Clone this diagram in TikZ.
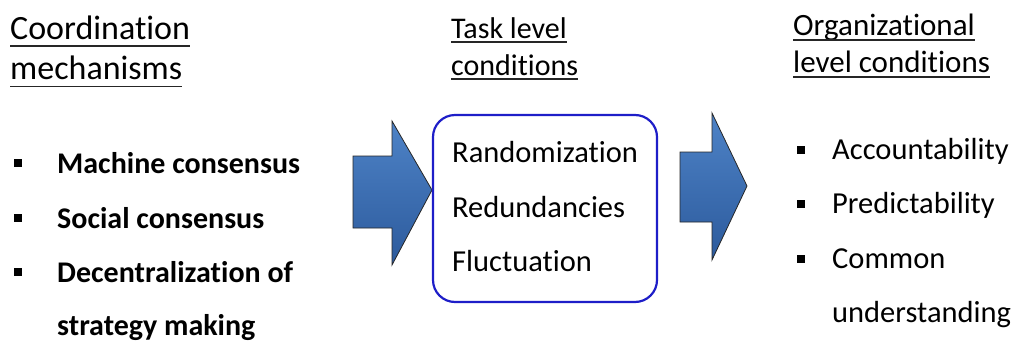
\documentclass[tikz,border=0pt]{standalone}
\usepackage{fontspec}
\setmainfont{Carlito}[Ligatures={NoCommon,NoContextual,NoRare}, Contextuals=NoAlternate]
\definecolor{arrowtop}{RGB}{78,131,199}
\definecolor{arrowbot}{RGB}{44,90,156}
\definecolor{boxblue}{RGB}{30,30,200}
\begin{document}
\begin{tikzpicture}[x=1pt,y=-1pt,
  txt/.style={anchor=base west, inner sep=0pt, text=black},
  lhead/.style={txt, font=\fontsize{34}{40}\selectfont},
  mhead/.style={txt, font=\fontsize{30}{36}\selectfont},
  rhead/.style={txt, font=\fontsize{31}{37}\selectfont},
  item/.style={txt, font=\fontsize{30.5}{36}\selectfont},
  bolditem/.style={txt, font=\fontsize{30}{36}\selectfont\bfseries},
  bul/.style={fill=black, minimum size=8pt, inner sep=0pt},
  uline/.style={line width=1.7pt, draw=black!85},
  blockarrow/.style={draw=black!85, line width=0.8pt, top color=arrowtop, bottom color=arrowbot},
  condbox/.style={draw=boxblue, line width=2.2pt, rounded corners=22pt, fill=white,
    minimum width=224pt, minimum height=187pt, inner sep=0pt}]
\useasboundingbox (0,0) rectangle (1017,343);

% column headings
\node[lhead] (c1) at (10,39) {Coordination};
\node[lhead] (c2) at (10,79) {mechanisms};
\draw[uline] ([yshift=-7pt]c1.base west) -- ([yshift=-7pt]c1.base east);
\draw[uline] ([yshift=-7.5pt]c2.base west) -- ([yshift=-7.5pt]c2.base east);

\node[mhead] (t1) at (451,38) {Task level};
\node[mhead] (t2) at (451,75) {conditions};
\draw[uline] ([yshift=-4pt]t1.base west) -- ([yshift=-4pt]t1.base east);
\draw[uline] ([yshift=-4pt]t2.base west) -- ([yshift=-4pt]t2.base east);

\node[rhead] (o1) at (793,35) {Organizational};
\node[rhead] (o2) at (793,72) {level conditions};
\draw[uline] ([yshift=-5pt]o1.base west) -- ([yshift=-5pt]o1.base east);
\draw[uline] ([yshift=-5pt]o2.base west) -- ([yshift=-5pt]o2.base east);

% coordination mechanisms
\node[bul] (lb1) at (17.5,163) {};
\node[bul] (lb2) at (17.5,218) {};
\node[bul] (lb3) at (17.5,272) {};
\node[bolditem] (m1) at (57,173) {Machine consensus};
\node[bolditem] (m2) at (57,228) {Social consensus};
\node[bolditem] (m3) at (57,282) {Decentralization of};
\node[bolditem] (m4) at (57,335) {strategy making};

% block arrows
\draw[blockarrow] (353,156) -- (392,156) -- (392,121) -- (432,190)
  -- (392,265) -- (392,228) -- (353,228) -- cycle;
\draw[blockarrow] (680,152) -- (712,152) -- (712,113) -- (747,186)
  -- (712,260) -- (712,222) -- (680,222) -- cycle;

% task level conditions
\node[condbox] (box) at (545,208.5) {};
\node[item] (k1) at (452,162) {Randomization};
\node[item] (k2) at (452,217) {Redundancies};
\node[item] (k3) at (452,271.5) {Fluctuation};

% organizational level conditions
\node[bul] (rb1) at (801,150) {};
\node[bul] (rb2) at (801,204) {};
\node[bul] (rb3) at (801,259) {};
\node[item] (r1) at (832,159) {Accountability};
\node[item] (r2) at (832,213) {Predictability};
\node[item] (r3) at (832,268) {Common};
\node[item] (r4) at (832,322) {understanding};
\end{tikzpicture}
\end{document}
